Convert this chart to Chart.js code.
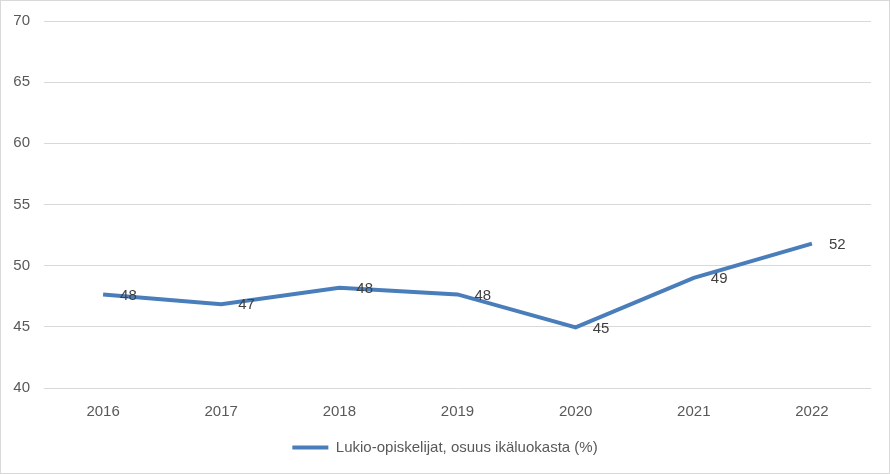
<!DOCTYPE html>
<html lang="fi">
<head>
  <meta charset="UTF-8">
  <title>Lukio-opiskelijat</title>
  <script src="https://cdn.jsdelivr.net/npm/chart.js"></script>
  <style>
    html, body { margin: 0; padding: 0; background: #fff; }
    .chart-container {
      position: relative;
      width: 888px;
      height: 472px;
      border: 1px solid #d9d9d9;
    }
  </style>
</head>
<body>
  <div class="chart-container">
    <canvas id="chartCanvas"></canvas>
  </div>

  <script>
    const years = ['2016', '2017', '2018', '2019', '2020', '2021', '2022'];
    const shareValues = [47.65, 46.85, 48.2, 47.65, 44.95, 49.0, 51.8];
    const shareLabels = ['48', '47', '48', '48', '45', '49', '52'];
    const seriesName = 'Lukio-opiskelijat, osuus ikäluokasta (%)';

    const lineColor = '#4a7ebb';
    const fontFamily = '"Liberation Sans", Arial, sans-serif';

    // arvot pisteiden oikealle puolelle
    const valueLabels = {
      id: 'valueLabels',
      afterDatasetsDraw(chart) {
        const ctx = chart.ctx;
        const meta = chart.getDatasetMeta(0);
        ctx.save();
        ctx.font = '15px ' + fontFamily;
        ctx.fillStyle = '#404040';
        ctx.textAlign = 'left';
        ctx.textBaseline = 'middle';
        meta.data.forEach((pt, i) => {
          ctx.fillText(shareLabels[i], pt.x + 17, pt.y + 1);
        });
        ctx.restore();
      }
    };

    const ctx = document.getElementById('chartCanvas').getContext('2d');
    const chart = new Chart(ctx, {
      type: 'line',
      data: {
        labels: years,
        datasets: [{
          label: seriesName,
          data: shareValues,
          borderColor: lineColor,
          backgroundColor: lineColor,
          borderWidth: 4,
          pointRadius: 0,
          tension: 0,
          fill: false
        }]
      },
      options: {
        responsive: true,
        maintainAspectRatio: false,
        animation: false,
        layout: {
          padding: { left: 0, right: 0, top: 20, bottom: 8 }
        },
        scales: {
          x: {
            offset: true,
            afterFit(scale) { scale.height -= 2; },
            grid: { display: false, drawTicks: false },
            border: { display: false },
            ticks: {
              color: '#595959',
              font: { family: fontFamily, size: 15 },
              padding: 15
            }
          },
          y: {
            min: 40,
            max: 70,
            afterFit(scale) {
              scale.width = 43;
              scale.paddingTop = 0;
              scale.paddingBottom = 0;
            },
            grid: { color: '#d9d9d9', drawTicks: false },
            border: { display: false },
            ticks: {
              stepSize: 5,
              color: '#595959',
              font: { family: fontFamily, size: 15 },
              padding: 14
            }
          },
          // tyhjä tila oikealle, jotta selite pysyy keskellä
          yRight: {
            position: 'right',
            min: 40,
            max: 70,
            afterFit(scale) {
              scale.width = 18;
              scale.paddingTop = 0;
              scale.paddingBottom = 0;
            },
            grid: { display: false, drawTicks: false },
            border: { display: false },
            ticks: { display: false }
          }
        },
        plugins: {
          tooltip: { enabled: false },
          legend: {
            position: 'bottom',
            labels: {
              color: '#595959',
              font: { family: fontFamily, size: 15 },
              boxWidth: 36,
              boxHeight: 4,
              padding: 6,
              generateLabels(chart) {
                const items = Chart.defaults.plugins.legend.labels.generateLabels(chart);
                items.forEach(it => { it.lineWidth = 0; it.fillStyle = lineColor; });
                return items;
              }
            }
          }
        }
      },
      plugins: [valueLabels]
    });
  </script>
</body>
</html>
